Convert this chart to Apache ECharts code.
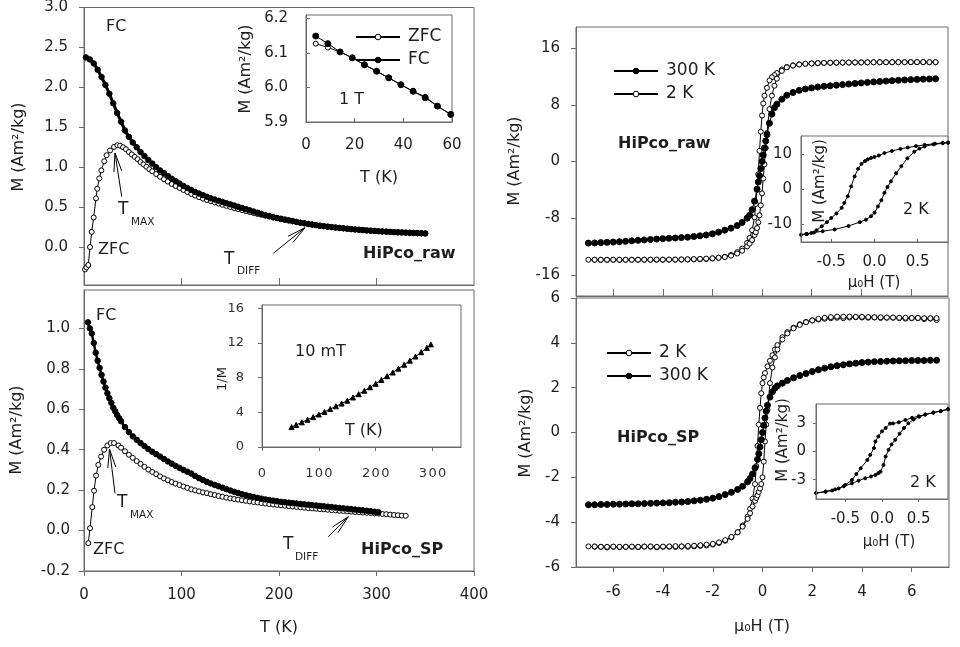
<!DOCTYPE html>
<html><head><meta charset="utf-8">
<script src="https://cdn.jsdelivr.net/npm/echarts@6/dist/echarts.min.js"></script>
<style>html,body{margin:0;padding:0;background:#fff}#c{width:960px;height:647px}</style>
</head><body><div id="c"></div>
<script>
// ---------------- DATA ----------------
// Top-left: HiPco_raw, M vs T (K)
const tlFC = [[2,2.375],[6,2.35],[10,2.30],[14,2.22],[18,2.13],[22,2.03],[26,1.92],[30,1.80],[34,1.68],[38,1.57],[42,1.46],[46,1.38],[50,1.31],[54,1.25],[58,1.19],[62,1.14],[66,1.09],[70,1.045],[74,1.00],[78,0.96],[82,0.925],[86,0.89],[90,0.855],[94,0.825],[98,0.795],[102,0.765],[106,0.74],[110,0.715],[114,0.69],[118,0.67],[122,0.65],[126,0.63],[130,0.61],[134,0.595],[138,0.58],[142,0.565],[146,0.55],[150,0.535],[154,0.52],[158,0.505],[162,0.49],[166,0.475],[170,0.46],[174,0.445],[178,0.43],[182,0.415],[186,0.40],[190,0.39],[194,0.375],[198,0.365],[202,0.355],[206,0.345],[210,0.335],[214,0.325],[218,0.315],[222,0.305],[226,0.297],[230,0.29],[234,0.282],[238,0.275],[242,0.268],[246,0.262],[250,0.256],[254,0.25],[258,0.245],[262,0.24],[266,0.235],[270,0.23],[274,0.225],[278,0.221],[282,0.217],[286,0.213],[290,0.209],[294,0.205],[298,0.202],[302,0.199],[306,0.196],[310,0.193],[314,0.19],[318,0.188],[322,0.185],[326,0.183],[330,0.181],[334,0.179],[338,0.177],[342,0.175],[346,0.173],[350,0.171]];
const tlZFC = [[1,-0.28],[2.5,-0.255],[4.4,-0.225],[6.2,0.0],[7.9,0.19],[9.9,0.37],[12.3,0.61],[13.6,0.73],[15.7,0.86],[17.8,0.96],[20.8,1.075],[23.2,1.15],[26.7,1.21],[30.8,1.254],[34.2,1.275],[37,1.27],[40,1.25],[43,1.225],[46,1.19],[49,1.16],[52,1.13],[55,1.10],[58,1.065],[61,1.035],[64,1.005],[67,0.975],[70,0.95],[74,0.915],[78,0.88],[82,0.85],[86,0.82],[90,0.79],[94,0.765],[98,0.74],[102,0.715],[106,0.69],[110,0.665],[114,0.645],[118,0.625],[122,0.607],[126,0.59],[130,0.575],[134,0.56],[138,0.545],[142,0.53],[146,0.516],[150,0.502],[154,0.488],[158,0.475],[162,0.463],[166,0.45],[170,0.438],[174,0.426],[178,0.414],[182,0.403],[186,0.392],[190,0.381],[194,0.37],[198,0.36],[202,0.35],[206,0.341],[210,0.332],[214,0.323],[218,0.314],[222,0.305],[226,0.297],[230,0.289],[234,0.281],[238,0.274],[242,0.267],[246,0.261],[250,0.255],[254,0.249],[258,0.244],[262,0.239],[266,0.234],[270,0.229],[274,0.224],[278,0.22],[282,0.216],[286,0.212],[290,0.208],[294,0.204],[298,0.201],[302,0.198],[306,0.195],[310,0.192],[314,0.189],[318,0.187],[322,0.184],[326,0.182],[330,0.18],[334,0.178],[338,0.176],[342,0.174],[346,0.172],[350,0.17]];
// Top-left inset (1 T)
const insTlZFC = [[4,6.127],[9,6.116],[14,6.103],[19,6.086],[24,6.066],[29,6.047],[34,6.028],[39,6.008],[44,5.989],[49,5.973],[54,5.946],[59.5,5.922]];
const insTlFC  = [[4,6.149],[9,6.127],[14,6.103],[19,6.086],[24,6.066],[29,6.047],[34,6.028],[39,6.008],[44,5.989],[49,5.970],[54,5.946],[59.5,5.922]];
// Bottom-left: HiPco_SP, M vs T (K)
const blFC = [[4,1.03],[6,1.0],[8,0.975],[10,0.928],[12,0.88],[14,0.84],[16,0.805],[18,0.77],[20,0.737],[22,0.707],[24,0.679],[26,0.655],[28,0.632],[30,0.608],[32,0.59],[34,0.572],[36,0.556],[38,0.541],[42,0.512],[46,0.487],[50,0.466],[54,0.449],[58,0.433],[62,0.418],[66,0.403],[70,0.39],[74,0.378],[78,0.366],[82,0.354],[86,0.342],[90,0.331],[94,0.32],[98,0.31],[102,0.30],[106,0.291],[110,0.282],[114,0.27],[118,0.259],[122,0.25],[126,0.241],[130,0.233],[134,0.226],[138,0.219],[142,0.212],[146,0.205],[150,0.198],[154,0.192],[158,0.186],[162,0.18],[166,0.175],[170,0.17],[174,0.166],[178,0.162],[182,0.158],[186,0.154],[190,0.151],[194,0.148],[198,0.145],[202,0.142],[206,0.14],[210,0.138],[214,0.136],[218,0.134],[222,0.132],[226,0.13],[230,0.128],[234,0.126],[238,0.124],[242,0.122],[246,0.12],[250,0.118],[254,0.116],[258,0.114],[262,0.112],[266,0.11],[270,0.108],[274,0.106],[278,0.104],[282,0.102],[286,0.1],[290,0.098],[294,0.096],[298,0.093],[302,0.091]];
const blZFC = [[4.4,-0.062],[6.2,0.012],[8.5,0.116],[10.3,0.197],[12.4,0.272],[14.7,0.325],[17.5,0.366],[20.6,0.40],[24,0.421],[27.4,0.433],[30.8,0.433],[35.3,0.421],[38,0.41],[42,0.392],[46,0.375],[50,0.36],[54,0.344],[58,0.33],[62,0.315],[66,0.302],[70,0.29],[74,0.279],[78,0.268],[82,0.258],[86,0.249],[90,0.24],[94,0.232],[98,0.225],[102,0.218],[106,0.211],[110,0.204],[114,0.199],[118,0.194],[122,0.189],[126,0.185],[130,0.18],[134,0.176],[138,0.171],[142,0.167],[146,0.163],[150,0.159],[154,0.156],[158,0.153],[162,0.15],[166,0.147],[170,0.144],[174,0.141],[178,0.139],[182,0.136],[186,0.134],[190,0.131],[194,0.129],[198,0.127],[202,0.125],[206,0.123],[210,0.121],[214,0.119],[218,0.117],[222,0.115],[226,0.113],[230,0.111],[234,0.11],[238,0.108],[242,0.106],[246,0.105],[250,0.103],[254,0.101],[258,0.1],[262,0.098],[266,0.097],[270,0.095],[274,0.094],[278,0.092],[282,0.091],[286,0.089],[290,0.088],[294,0.087],[298,0.085],[302,0.084],[306,0.082],[310,0.081],[314,0.079],[318,0.077],[322,0.076],[326,0.074],[330,0.073]];
// Bottom-left inset (10 mT): 1/M vs T
const insBlInv = [[52,2.3],[60,2.55],[70,2.85],[80,3.15],[90,3.45],[100,3.75],[110,4.05],[120,4.38],[130,4.7],[140,5.02],[150,5.35],[160,5.72],[170,6.1],[180,6.5],[190,6.9],[200,7.3],[210,7.75],[220,8.18],[230,8.6],[240,9.05],[250,9.5],[260,9.97],[270,10.45],[280,10.95],[290,11.45],[297,11.85]];
// Top-right: HiPco_raw, M vs mu0H (T)
const tr300 = [[-7,-11.53],[-6.75,-11.5],[-6.5,-11.46],[-6.25,-11.42],[-6,-11.38],[-5.75,-11.33],[-5.5,-11.28],[-5.25,-11.2],[-5,-11.14],[-4.75,-11.08],[-4.5,-11.02],[-4.25,-10.96],[-4,-10.9],[-3.75,-10.85],[-3.5,-10.8],[-3.25,-10.75],[-3,-10.7],[-2.75,-10.6],[-2.5,-10.5],[-2.25,-10.38],[-2,-10.22],[-1.75,-9.98],[-1.5,-9.7],[-1.25,-9.42],[-1,-9.05],[-0.8,-8.6],[-0.6,-8.0],[-0.5,-7.6],[-0.4,-6.8],[-0.3,-5.6],[-0.2,-3.9],[-0.15,-2.9],[-0.1,-2.0],[-0.05,-1.0],[0,0],[0.05,0.9],[0.1,1.9],[0.15,2.9],[0.2,3.8],[0.3,5.4],[0.4,6.7],[0.5,7.6],[0.6,8.1],[0.8,8.8],[1,9.35],[1.25,9.75],[1.5,10.05],[1.75,10.25],[2,10.4],[2.25,10.52],[2.5,10.62],[2.75,10.7],[3,10.78],[3.25,10.86],[3.5,10.94],[3.75,11.02],[4,11.1],[4.25,11.17],[4.5,11.24],[4.75,11.3],[5,11.36],[5.25,11.42],[5.5,11.47],[5.75,11.52],[6,11.56],[6.25,11.6],[6.5,11.63],[6.75,11.66],[7,11.68]];
const tr2K = [[7,14.02],[6.75,14.02],[6.5,14.03],[6.25,14.03],[6,14.03],[5.75,14.03],[5.5,14.03],[5.25,14.02],[5,14.02],[4.75,14.02],[4.5,14.01],[4.25,14.0],[4,14.0],[3.75,13.99],[3.5,13.98],[3.25,13.97],[3,13.96],[2.75,13.94],[2.5,13.92],[2.25,13.89],[2,13.85],[1.75,13.8],[1.5,13.72],[1.25,13.58],[1,13.35],[0.8,13.0],[0.6,12.5],[0.5,12.2],[0.4,11.9],[0.3,11.45],[0.2,10.4],[0.1,9.3],[0.05,8.2],[0,6.5],[-0.05,4.2],[-0.1,1.5],[-0.15,-1.8],[-0.2,-4.0],[-0.25,-6.0],[-0.3,-7.9],[-0.4,-9.7],[-0.5,-10.8],[-0.6,-11.5],[-0.8,-12.3],[-1,-12.8],[-1.25,-13.2],[-1.5,-13.45],[-1.75,-13.6],[-2,-13.7],[-2.25,-13.76],[-2.5,-13.8],[-2.75,-13.83],[-3,-13.85],[-3.25,-13.86],[-3.5,-13.87],[-3.75,-13.87],[-4,-13.88],[-4.25,-13.88],[-4.5,-13.88],[-4.75,-13.88],[-5,-13.88],[-5.25,-13.88],[-5.5,-13.89],[-5.75,-13.89],[-6,-13.89],[-6.25,-13.89],[-6.5,-13.89],[-6.75,-13.88],[-7,-13.88],
  [-6.75,-13.88],[-6.5,-13.88],[-6.25,-13.88],[-6,-13.88],[-5.75,-13.88],[-5.5,-13.88],[-5.25,-13.88],[-5,-13.87],[-4.75,-13.87],[-4.5,-13.87],[-4.25,-13.86],[-4,-13.86],[-3.75,-13.85],[-3.5,-13.84],[-3.25,-13.83],[-3,-13.81],[-2.75,-13.79],[-2.5,-13.76],[-2.25,-13.72],[-2,-13.67],[-1.75,-13.6],[-1.5,-13.5],[-1.25,-13.3],[-1,-13.0],[-0.8,-12.6],[-0.6,-12.0],[-0.5,-11.6],[-0.4,-11.1],[-0.3,-10.4],[-0.25,-10.0],[-0.2,-9.4],[-0.15,-8.6],[-0.1,-7.6],[-0.05,-6.2],[0,-4.5],[0.05,-2.4],[0.1,-0.4],[0.15,1.9],[0.2,4.0],[0.3,7.4],[0.4,9.3],[0.5,10.7],[0.6,11.7],[0.8,12.8],[1,13.3],[1.25,13.55],[1.5,13.7],[1.75,13.8],[2,13.86],[2.25,13.9],[2.5,13.93],[2.75,13.95],[3,13.97],[3.25,13.98],[3.5,13.99],[3.75,14.0],[4,14.0],[4.25,14.01],[4.5,14.01],[4.75,14.02],[5,14.02],[5.25,14.03],[5.5,14.03],[5.75,14.03],[6,14.04],[6.25,14.04],[6.5,14.04],[6.75,14.04],[7,14.04]];
// Top-right inset (2 K, low field)
const insTr2K = [[0.85,13.3],[0.79,13.25],[0.7,13.0],[0.58,12.66],[0.48,12.3],[0.385,11.9],[0.3,11.5],[0.2,10.9],[0.115,10.3],[0.05,9.6],[0,9.2],[-0.04,8.9],[-0.077,8.5],[-0.11,8.0],[-0.15,7.2],[-0.19,5.8],[-0.23,3.6],[-0.27,0.74],[-0.31,-2.1],[-0.35,-4.0],[-0.38,-5.4],[-0.44,-7.0],[-0.5,-8.3],[-0.55,-9.5],[-0.61,-10.7],[-0.67,-11.8],[-0.73,-12.6],[-0.79,-12.9],[-0.85,-13.1],
  [-0.78,-12.9],[-0.7,-12.5],[-0.6,-12.1],[-0.46,-11.6],[-0.3,-10.6],[-0.17,-9.5],[-0.1,-8.8],[-0.04,-7.8],[0,-6.8],[0.04,-5.0],[0.08,-3.2],[0.115,-1.1],[0.15,0.6],[0.19,2.2],[0.25,4.5],[0.31,6.5],[0.38,8.8],[0.46,10.7],[0.52,11.6],[0.58,12.2],[0.68,12.8],[0.79,13.1],[0.85,13.3]];
// Bottom-right: HiPco_SP, M vs mu0H (T)
const br300 = [[-7,-3.22],[-6.75,-3.22],[-6.5,-3.21],[-6.25,-3.21],[-6,-3.2],[-5.75,-3.2],[-5.5,-3.19],[-5.25,-3.18],[-5,-3.18],[-4.75,-3.17],[-4.5,-3.16],[-4.25,-3.15],[-4,-3.14],[-3.75,-3.13],[-3.5,-3.11],[-3.25,-3.1],[-3,-3.08],[-2.75,-3.05],[-2.5,-3.02],[-2.25,-2.98],[-2,-2.93],[-1.75,-2.86],[-1.5,-2.77],[-1.25,-2.67],[-1,-2.54],[-0.8,-2.4],[-0.6,-2.2],[-0.5,-2.05],[-0.4,-1.85],[-0.3,-1.58],[-0.2,-1.2],[-0.15,-0.95],[-0.1,-0.65],[-0.05,-0.32],[0,0],[0.05,0.32],[0.1,0.65],[0.15,0.95],[0.2,1.22],[0.3,1.58],[0.4,1.82],[0.5,1.98],[0.6,2.08],[0.8,2.2],[1,2.32],[1.25,2.44],[1.5,2.54],[1.75,2.63],[2,2.72],[2.25,2.8],[2.5,2.87],[2.75,2.93],[3,2.98],[3.25,3.02],[3.5,3.06],[3.75,3.09],[4,3.12],[4.25,3.14],[4.5,3.16],[4.75,3.17],[5,3.18],[5.25,3.19],[5.5,3.2],[5.75,3.2],[6,3.21],[6.25,3.21],[6.5,3.21],[6.75,3.22],[7,3.22]];
const br2K = [[7,5.02],[6.75,5.08],[6.5,5.06],[6.25,5.1],[6,5.1],[5.75,5.08],[5.5,5.1],[5.25,5.12],[5,5.12],[4.75,5.11],[4.5,5.13],[4.25,5.12],[4,5.13],[3.75,5.14],[3.5,5.13],[3.25,5.1],[3,5.12],[2.75,5.1],[2.5,5.07],[2.25,5.04],[2,5.0],[1.75,4.93],[1.5,4.83],[1.25,4.68],[1,4.48],[0.8,4.25],[0.6,3.9],[0.5,3.7],[0.4,3.45],[0.3,3.2],[0.2,2.95],[0.1,2.65],[0.05,2.45],[0,2.2],[-0.05,1.75],[-0.1,1.1],[-0.15,0.35],[-0.2,-0.6],[-0.25,-1.5],[-0.3,-2.3],[-0.4,-2.95],[-0.5,-3.4],[-0.6,-3.75],[-0.8,-4.15],[-1,-4.45],[-1.25,-4.68],[-1.5,-4.83],[-1.75,-4.93],[-2,-5.0],[-2.25,-5.04],[-2.5,-5.06],[-2.75,-5.08],[-3,-5.1],[-3.25,-5.09],[-3.5,-5.11],[-3.75,-5.1],[-4,-5.1],[-4.25,-5.12],[-4.5,-5.1],[-4.75,-5.09],[-5,-5.11],[-5.25,-5.1],[-5.5,-5.1],[-5.75,-5.11],[-6,-5.1],[-6.25,-5.13],[-6.5,-5.1],[-6.75,-5.1],[-7,-5.08],
  [-6.75,-5.08],[-6.5,-5.1],[-6.25,-5.1],[-6,-5.09],[-5.75,-5.1],[-5.5,-5.1],[-5.25,-5.09],[-5,-5.1],[-4.75,-5.09],[-4.5,-5.08],[-4.25,-5.1],[-4,-5.09],[-3.75,-5.08],[-3.5,-5.07],[-3.25,-5.08],[-3,-5.06],[-2.75,-5.05],[-2.5,-5.03],[-2.25,-5.0],[-2,-4.97],[-1.75,-4.9],[-1.5,-4.8],[-1.25,-4.66],[-1,-4.45],[-0.8,-4.2],[-0.6,-3.85],[-0.5,-3.6],[-0.4,-3.3],[-0.3,-3.05],[-0.25,-2.92],[-0.2,-2.8],[-0.15,-2.65],[-0.1,-2.5],[-0.05,-2.3],[0,-2.0],[0.05,-1.3],[0.1,-0.4],[0.15,0.35],[0.2,1.0],[0.3,2.2],[0.4,2.9],[0.5,3.35],[0.6,3.7],[0.8,4.15],[1,4.42],[1.25,4.65],[1.5,4.8],[1.75,4.92],[2,5.0],[2.25,5.07],[2.5,5.12],[2.75,5.15],[3,5.17],[3.25,5.17],[3.5,5.17],[3.75,5.16],[4,5.16],[4.25,5.15],[4.5,5.14],[4.75,5.14],[5,5.13],[5.25,5.13],[5.5,5.12],[5.75,5.12],[6,5.11],[6.25,5.11],[6.5,5.1],[6.75,5.1],[7,5.1]];
// Bottom-right inset (2 K, low field)
const insBr2K = [[0.9,4.5],[0.8,4.29],[0.7,4.12],[0.59,3.93],[0.5,3.75],[0.41,3.58],[0.32,3.35],[0.23,3.1],[0.15,2.98],[0.11,2.97],[0.05,2.5],[0,2.14],[-0.05,1.6],[-0.09,1.07],[-0.11,0.36],[-0.16,-0.36],[-0.2,-0.9],[-0.29,-1.78],[-0.35,-2.4],[-0.41,-3.03],[-0.5,-3.55],[-0.59,-3.93],[-0.68,-4.15],[-0.77,-4.29],[-0.9,-4.42],
  [-0.77,-4.25],[-0.64,-4.03],[-0.52,-3.7],[-0.41,-3.39],[-0.32,-3.1],[-0.23,-2.85],[-0.15,-2.65],[-0.09,-2.5],[-0.05,-2.3],[-0.02,-2.14],[0.02,-1.43],[0.05,-0.54],[0.09,0.18],[0.13,0.75],[0.18,1.25],[0.24,1.9],[0.3,2.5],[0.36,3.0],[0.43,3.4],[0.51,3.7],[0.59,3.93],[0.7,4.15],[0.8,4.3],[0.9,4.5]];
// Tick label values
const tlYTicks = [0,0.5,1,1.5,2,2.5,3];
const blYTicks = [-0.2,0,0.2,0.4,0.6,0.8,1.0];
const tTicks = [0,100,200,300,400];
const trYTicks = [-16,-8,0,8,16];
const brYTicks = [-6,-4,-2,0,2,4,6];
const hTicks = [-6,-4,-2,0,2,4,6];
const insTlY = [5.9,6.0,6.1,6.2], insTlX = [0,20,40,60];
const insBlY = [0,4,8,12,16], insBlX = [0,100,200,300];
const insTrY = [-10,0,10], insTrX = [-0.5,0,0.5];
const insBrY = [-3,0,3], insBrX = [-0.5,0,0.5];

// ---------------- STYLE ----------------
const FONT = "DejaVu Sans";
const TXT = '#1e1e1e';
const AX = '#6a6a6a';

function axis(gi, min, max, o) {
  return {
    type: 'value', gridIndex: gi, min: min, max: max, position: o.pos, z: o.z || 0,
    axisLine: {show: true, onZero: false, lineStyle: {color: AX, width: 1}},
    axisTick: {show: o.ticks !== false, inside: !!o.inside, length: o.tlen || 5, customValues: o.vals, lineStyle: {color: AX}},
    axisLabel: {show: o.labels !== false, customValues: o.vals, margin: o.margin || 8, color: o.color || TXT,
      fontFamily: FONT, fontSize: o.fs || 15, formatter: o.fmt},
    splitLine: {show: false}
  };
}
const f1 = v => v.toFixed(1);
const fi = v => String(Math.round(v));
const fSp = v => String(Math.round(v)).split('').join('\u200A');

const grids = [
  {left: 84, top: 7, width: 390, height: 278},
  {left: 84, top: 290, width: 390, height: 281},
  {left: 576, top: 27, width: 372, height: 269},
  {left: 576, top: 298, width: 373, height: 269},
  {left: 306, top: 15, width: 146, height: 107},
  {left: 262, top: 305, width: 199, height: 142},
  {left: 801, top: 136, width: 147, height: 106},
  {left: 816, top: 404, width: 132, height: 95}
].map((g, i) => Object.assign({show: true, borderColor: AX, borderWidth: 1, backgroundColor: i >= 4 ? '#fff' : 'transparent', containLabel: false}, g));

const xAxes = [
  axis(0, 0, 400, {pos: 'bottom', vals: [100,200,300], inside: true, tlen: 7, labels: false}),
  axis(1, 0, 400, {pos: 'bottom', vals: tTicks, margin: 17}),
  axis(2, -7.5, 7.5, {pos: 'bottom', vals: hTicks, inside: true, tlen: 7, labels: false}),
  axis(3, -7.5, 7.5, {pos: 'bottom', vals: hTicks, margin: 18, fmt: fi}),
  axis(4, 0, 60, {pos: 'bottom', vals: insTlX, inside: true, tlen: 4, margin: 16, z: 10}),
  axis(5, 0, 350, {pos: 'bottom', vals: insBlX, tlen: 4, margin: 20, fs: 13, color: '#333', fmt: fSp, z: 10}),
  axis(6, -0.85, 0.85, {pos: 'bottom', vals: insTrX, inside: true, tlen: 3, margin: 13, fmt: f1, z: 10}),
  axis(7, -0.9, 0.9, {pos: 'bottom', vals: insBrX, tlen: 3, margin: 13, fmt: f1, z: 10})
];
const yAxes = [
  axis(0, -0.475, 3.0, {pos: 'left', vals: tlYTicks, margin: 16, fmt: f1}),
  axis(1, -0.2, 1.19, {pos: 'left', vals: blYTicks, margin: 14, fmt: f1}),
  axis(2, -19, 19, {pos: 'left', vals: trYTicks, margin: 16, fmt: fi}),
  axis(3, -6, 6, {pos: 'left', vals: brYTicks, margin: 16, fmt: fi}),
  axis(4, 5.9, 6.21, {pos: 'left', vals: insTlY, inside: true, tlen: 4, margin: 18, fmt: f1, z: 10}),
  axis(5, 0, 16.4, {pos: 'left', vals: insBlY, tlen: 4, margin: 18, fs: 13, color: '#333', fmt: fi, z: 10}),
  axis(6, -15.2, 15.2, {pos: 'left', vals: insTrY, inside: true, tlen: 3, margin: 9, fmt: fi, z: 10}),
  axis(7, -5.05, 5.05, {pos: 'left', vals: insBrY, tlen: 3, margin: 10, fmt: fi, z: 10})
];

function ser(name, gi, data, o) {
  return {
    type: 'line', name: name, xAxisIndex: gi, yAxisIndex: gi, data: data,
    symbol: o.symbol || 'circle', symbolSize: o.size || 5, showSymbol: true,
    lineStyle: {color: '#000', width: o.lw || 1},
    itemStyle: {color: o.open ? '#fff' : '#000', borderColor: '#000', borderWidth: 1},
    z: o.z || 2, silent: true, animation: false
  };
}

const series = [
  ser('ZFC raw', 0, tlZFC, {open: true, size: 5, z: 2}),
  ser('FC raw', 0, tlFC, {size: 5.5, lw: 3, z: 3}),
  ser('ZFC SP', 1, blZFC, {open: true, size: 5, z: 2}),
  ser('FC SP', 1, blFC, {size: 5.5, lw: 2.5, z: 3}),
  ser('2 K', 2, tr2K, {open: true, size: 5, z: 2}),
  ser('300 K', 2, tr300, {size: 6, z: 3}),
  ser('2 K', 3, br2K, {open: true, size: 5, z: 2}),
  ser('300 K', 3, br300, {size: 6, z: 3}),
  ser('ZFC', 4, insTlZFC, {open: true, size: 5, z: 4}),
  ser('FC', 4, insTlFC, {size: 6, z: 5}),
  ser('inv M', 5, insBlInv, {symbol: 'triangle', size: 5, z: 4}),
  ser('raw 2K low field', 6, insTr2K, {size: 3, z: 4}),
  ser('SP 2K low field', 7, insBr2K, {size: 3, z: 4})
];

const legStyle = {orient: 'vertical', itemWidth: 44, itemHeight: 7, itemGap: 3, selectedMode: false,
  itemStyle: {borderWidth: 1},
  textStyle: {fontSize: 17, lineHeight: 20, color: TXT, fontFamily: FONT, padding: [0, 0, 0, 3]}};
const legends = [
  Object.assign({data: ['ZFC', 'FC'], left: 350, top: 22}, legStyle),
  Object.assign({data: ['300 K', '2 K'], left: 608, top: 56}, legStyle),
  Object.assign({data: ['2 K', '300 K'], left: 601, top: 338}, legStyle)
];

function txt(s, x, y, o) {
  o = o || {};
  return {type: 'text', x: x, y: y, rotation: o.rot || 0, z: 100,
    style: {text: s, fill: TXT, fontFamily: FONT, fontSize: o.fs || 16, fontWeight: o.bold ? 'bold' : 'normal',
      align: o.align || 'left', verticalAlign: 'middle', textAlign: o.align || 'left', textVerticalAlign: 'middle'}};
}
function arrow(x1, y1, x2, y2) {
  const L = 19, a = 12 * Math.PI / 180;
  const dx = x1 - x2, dy = y1 - y2, d = Math.hypot(dx, dy), ux = dx / d, uy = dy / d;
  const r = ang => [x2 + L * (ux * Math.cos(ang) - uy * Math.sin(ang)), y2 + L * (ux * Math.sin(ang) + uy * Math.cos(ang))];
  const st = {stroke: '#000', lineWidth: 1, fill: null};
  return [
    {type: 'polyline', z: 100, shape: {points: [[x1, y1], [x2, y2]]}, style: st},
    {type: 'polyline', z: 100, shape: {points: [r(a), [x2, y2], r(-a)]}, style: st}
  ];
}
const R = Math.PI / 2;
const graphics = [
  // axis titles
  txt('M (Am²/kg)', 19, 147, {rot: R, align: 'center', fs: 16}),
  txt('M (Am²/kg)', 17, 430, {rot: R, align: 'center', fs: 16}),
  txt('T (K)', 279, 628, {align: 'center', fs: 16}),
  txt('M (Am²/kg)', 515, 161, {rot: R, align: 'center', fs: 16}),
  txt('M (Am²/kg)', 526, 433, {rot: R, align: 'center', fs: 16}),
  txt('μ₀H (T)', 762, 627, {align: 'center', fs: 16}),
  // top-left panel
  txt('FC', 106, 27), txt('ZFC', 98, 249.5),
  txt('T', 118, 210, {fs: 17}), txt('MAX', 131, 222, {fs: 10.5}),
  txt('T', 224, 259.5, {fs: 17}), txt('DIFF', 237, 271, {fs: 10.5}),
  txt('HiPco_raw', 363, 254, {bold: true, fs: 16}),
  // top-left inset
  txt('M (Am²/kg)', 246, 69, {rot: R, align: 'center', fs: 16}),
  txt('T (K)', 379, 178, {align: 'center', fs: 16}),
  txt('1 T', 339, 100),
  // bottom-left panel
  txt('FC', 96, 316), txt('ZFC', 93, 550),
  txt('T', 117, 503, {fs: 17}), txt('MAX', 130, 515, {fs: 10.5}),
  txt('T', 283, 545, {fs: 17}), txt('DIFF', 295, 557, {fs: 10.5}),
  txt('HiPco_SP', 361, 549.5, {bold: true, fs: 16}),
  // bottom-left inset
  txt('10 mT', 295, 352), txt('T (K)', 345, 431),
  txt('1/M', 223, 379, {rot: R, align: 'center', fs: 13}),
  // top-right panel
  txt('HiPco_raw', 618, 144, {bold: true, fs: 16}),
  txt('2 K', 903, 210),
  txt('M (Am²/kg)', 820, 181, {rot: R, align: 'center', fs: 15}),
  txt('μ₀H (T)', 874, 283, {align: 'center', fs: 15}),
  // bottom-right panel
  txt('HiPco_SP', 617, 437.5, {bold: true, fs: 16}),
  txt('2 K', 910, 483),
  txt('M (Am²/kg)', 783, 440, {rot: R, align: 'center', fs: 15}),
  txt('μ₀H (T)', 889, 542, {align: 'center', fs: 15})
].concat(
  arrow(121.7, 196.7, 115, 153),
  arrow(273.3, 253.3, 305, 227.7),
  arrow(115, 493.3, 109.5, 449),
  arrow(328.3, 536.7, 348.3, 516.7)
);

const chart = echarts.init(document.getElementById('c'), null, {renderer: 'canvas'});
chart.setOption({
  animation: false,
  backgroundColor: '#fff',
  grid: grids, xAxis: xAxes, yAxis: yAxes,
  legend: legends,
  series: series,
  graphic: {elements: graphics}
});
</script></body></html>
